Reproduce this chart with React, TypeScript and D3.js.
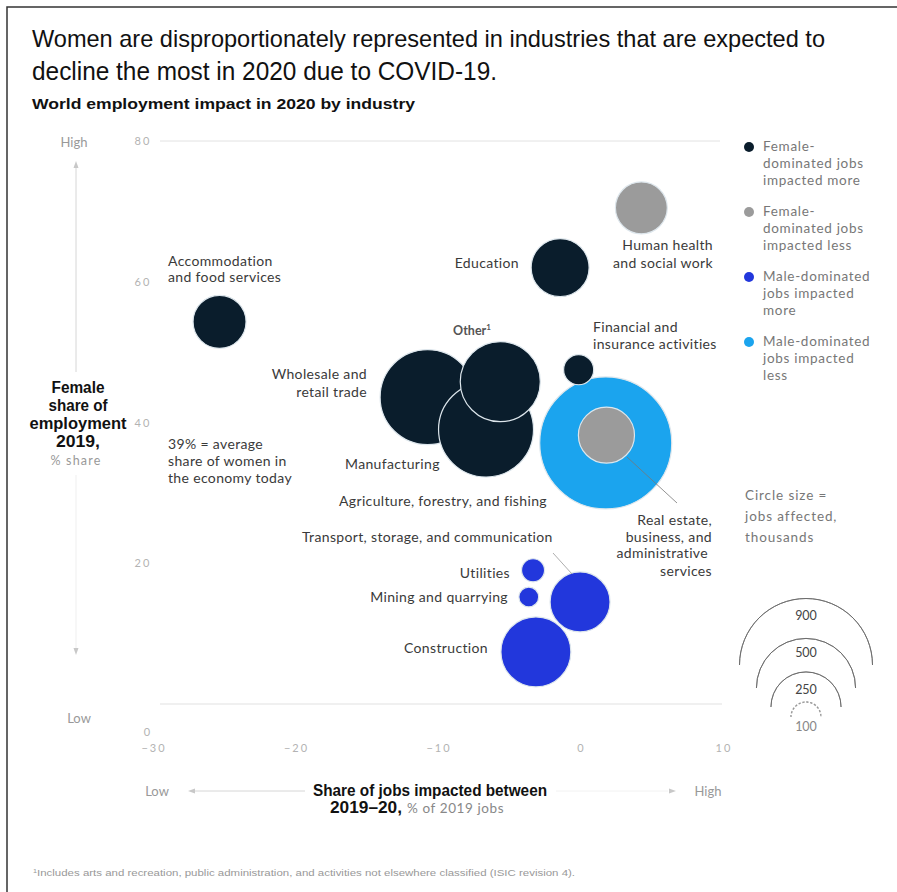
import React from "react";
import * as d3 from "d3";

// ---- Data ----
const industries = [
  "Accommodation and food services",
  "Education",
  "Human health and social work",
  "Wholesale and retail trade",
  "Manufacturing",
  "Other",
  "Agriculture, forestry, and fishing",
  "Real estate, business, and administrative services",
  "Financial and insurance activities",
  "Transport, storage, and communication",
  "Utilities",
  "Mining and quarrying",
  "Construction",
];
const jobsImpactedShare = [-25.4, -1.5, 4.2, -10.8, -6.7, -5.7, 1.7, 1.75, -0.2, -0.1, -3.4, -3.7, -3.2];
const femaleShare = [54.3, 62.0, 70.5, 43.6, 39.0, 45.8, 37.1, 38.2, 47.5, 14.5, 19.0, 15.2, 7.4];
const jobsAffected = [143, 171, 137, 459, 459, 326, 887, 160, 46, 183, 27, 20, 249];
const groupOf = [0, 0, 1, 0, 0, 0, 3, 1, 0, 2, 2, 2, 2];

const groupLabels = [
  ["Female-", "dominated jobs", "impacted more"],
  ["Female-", "dominated jobs", "impacted less"],
  ["Male-dominated", "jobs impacted", "more"],
  ["Male-dominated", "jobs impacted", "less"],
];
const groupColors = ["#0a1d2c", "#9b9b9b", "#2237dc", "#1ba4ee"];

const xTicks = [-30, -20, -10, 0, 10];
const yTicks = [0, 20, 40, 60, 80];
const sizeLegend = [900, 500, 250, 100];

const W = 897;
const H = 892;

export default function App() {
  const x = d3.scaleLinear().domain([-30, 10]).range([154, 724]);
  const y = d3.scaleLinear().domain([0, 80]).range([704, 141]);
  const r = d3.scaleSqrt().domain([0, 900]).range([0, 66.5]);

  const points = industries.map((name, i) => ({
    name,
    x: jobsImpactedShare[i],
    y: femaleShare[i],
    v: jobsAffected[i],
    g: groupOf[i],
  }));

  const labelFont = "Lato, 'Open Sans', sans-serif";
  const narrow = "'Liberation Sans Narrow', 'Arial Narrow', 'Liberation Sans', sans-serif";
  const labelFill = "#3a3a3a";
  const ls = 14;

  const arc = d3.arc();

  const legendCx = 806;
  const legendBase = [665, 688, 707, 717];

  const yTitle = [
    { s: "Female", w: 53 },
    { s: "share of", w: 59 },
    { s: "employment", w: 97 },
    { s: "2019,", w: 44 },
  ];

  return (
    <svg
      width={W}
      height={H}
      style={{ position: "absolute", left: 0, top: 0, background: "#fff" }}
    >
      <rect x={7} y={7} width={1000} height={1000} fill="none" stroke="#333" strokeWidth={1.5} />

      {/* Title */}
      <text x={32} y={47} fontFamily={narrow} fontSize={24} fill="#111" textLength={793} lengthAdjust="spacingAndGlyphs">
        Women are disproportionately represented in industries that are expected to
      </text>
      <text x={32} y={80} fontFamily={narrow} fontSize={26} fill="#111" textLength={465} lengthAdjust="spacingAndGlyphs">
        decline the most in 2020 due to COVID-19.
      </text>
      <text x={32} y={109} fontFamily={narrow} fontSize={15.5} fontWeight={900} fill="#111" textLength={383} lengthAdjust="spacingAndGlyphs">
        World employment impact in 2020 by industry
      </text>

      {/* gridlines */}
      <line x1={160} x2={720} y1={y(80)} y2={y(80)} stroke="#e2e2e2" strokeWidth={1} />
      <line x1={160} x2={722} y1={y(0)} y2={y(0)} stroke="#e2e2e2" strokeWidth={1.2} />

      {/* y tick labels */}
      {yTicks.map((t) => (
        <text
          key={"y" + t}
          x={t === 0 ? 148 : 143}
          y={t === 0 ? 736 : y(t) + 4}
          textAnchor="middle"
          fontFamily={labelFont}
          fontSize={11}
          fill="#b3b3b3"
          letterSpacing={2}
        >
          {t}
        </text>
      ))}
      {/* x tick labels */}
      {xTicks.map((t) => (
        <text
          key={"x" + t}
          x={x(t)}
          y={752}
          textAnchor="middle"
          fontFamily={labelFont}
          fontSize={11}
          fill="#b3b3b3"
          letterSpacing={2}
        >
          {t < 0 ? "\u2212" + Math.abs(t) : t}
        </text>
      ))}

      {/* y axis arrows and titles */}
      <text x={74} y={147} textAnchor="middle" fontFamily={labelFont} fontSize={13} fill="#999">High</text>
      <line x1={76} x2={76} y1={166} y2={372} stroke="#d6d6d6" strokeWidth={1} />
      <path d="M76,161 L73.5,168 L78.5,168 Z" fill="#c8c8c8" />
      <line x1={76} x2={76} y1={475} y2={648} stroke="#efefef" strokeWidth={1} />
      <path d="M76,655 L73.5,648 L78.5,648 Z" fill="#c8c8c8" />
      <text x={79} y={723} textAnchor="middle" fontFamily={labelFont} fontSize={13} fill="#999">Low</text>

      {yTitle.map((o, i) => (
        <text
          key={o.s}
          x={78 - o.w / 2}
          y={393 + i * 18}
          fontFamily={narrow}
          fontSize={16}
          fontWeight={900}
          fill="#111"
          textLength={o.w}
          lengthAdjust="spacingAndGlyphs"
        >
          {o.s}
        </text>
      ))}
      <text x={76} y={465} textAnchor="middle" fontFamily={labelFont} fontSize={12.5} fill="#999" letterSpacing={1.2}>% share</text>

      {/* x axis title */}
      <text x={157} y={796} textAnchor="middle" fontFamily={labelFont} fontSize={13} fill="#999">Low</text>
      <line x1={193} x2={305} y1={791} y2={791} stroke="#d6d6d6" strokeWidth={1} />
      <path d="M188,791 L195,788.5 L195,793.5 Z" fill="#c8c8c8" />
      <line x1={556} x2={668} y1={791} y2={791} stroke="#f2f2f2" strokeWidth={1} />
      <path d="M676,791 L669,788.5 L669,793.5 Z" fill="#c8c8c8" />
      <text x={708} y={796} textAnchor="middle" fontFamily={labelFont} fontSize={13} fill="#999">High</text>
      <text x={313} y={796} fontFamily={narrow} fontSize={16} fontWeight={900} fill="#111" textLength={234} lengthAdjust="spacingAndGlyphs">
        Share of jobs impacted between
      </text>
      <text x={330} y={813} fontFamily={narrow} fontSize={16} fontWeight={900} fill="#111" textLength={72} lengthAdjust="spacingAndGlyphs">
        2019–20,
      </text>
      <text x={407} y={813} fontFamily={labelFont} fontSize={13.5} fill="#888" letterSpacing={0.6}>% of 2019 jobs</text>

      {/* bubbles */}
      {points.map((p) => (
        <circle
          key={p.name}
          cx={x(p.x)}
          cy={y(p.y)}
          r={r(p.v)}
          fill={groupColors[p.g]}
          stroke="#dde6ec"
          strokeWidth={1.2}
        />
      ))}

      {/* leader lines */}
      <line x1={627} y1={457} x2={677} y2={503} stroke="#777" strokeWidth={0.8} />
      <line x1={553} y1={553} x2={572} y2={574} stroke="#999" strokeWidth={0.8} />

      {/* bubble labels */}
      <g fontFamily={labelFont} fontSize={ls} fill={labelFill} letterSpacing={0.35}>
        <text x={168} y={266}>Accommodation</text>
        <text x={168} y={282}>and food services</text>
        <text x={519} y={268} textAnchor="end">Education</text>
        <text x={713} y={250} textAnchor="end">Human health</text>
        <text x={713} y={268} textAnchor="end">and social work</text>
        <text x={472} y={335} textAnchor="middle" fontWeight={700} fontSize={12.5} letterSpacing={0} fill="#555">
          Other<tspan fontSize={8} dy={-5}>1</tspan>
        </text>
        <text x={593} y={332}>Financial and</text>
        <text x={593} y={349}>insurance activities</text>
        <text x={367} y={379} textAnchor="end">Wholesale and</text>
        <text x={367} y={397} textAnchor="end">retail trade</text>
        <text x={168} y={449}>39% = average</text>
        <text x={168} y={466}>share of women in</text>
        <text x={168} y={483}>the economy today</text>
        <text x={345} y={469}>Manufacturing</text>
        <text x={339} y={506}>Agriculture, forestry, and fishing</text>
        <text x={712} y={525} textAnchor="end">Real estate,</text>
        <text x={712} y={542} textAnchor="end">business,  and</text>
        <text x={708} y={558} textAnchor="end">administrative</text>
        <text x={712} y={576} textAnchor="end">services</text>
        <text x={302} y={542}>Transport, storage, and communication</text>
        <text x={510} y={578} textAnchor="end">Utilities</text>
        <text x={508} y={602} textAnchor="end">Mining and quarrying</text>
        <text x={404} y={653}>Construction</text>
      </g>

      {/* color legend */}
      {groupLabels.map((lines, gi) => (
        <g key={"lg" + gi}>
          <circle cx={749} cy={147 + gi * 65} r={5} fill={groupColors[gi]} />
          {lines.map((s, li) => (
            <text
              key={s + li}
              x={763}
              y={151 + gi * 65 + li * 17}
              fontFamily={labelFont}
              fontSize={13.5}
              fill="#777"
              letterSpacing={0.7}
            >
              {s}
            </text>
          ))}
        </g>
      ))}

      {/* size legend */}
      {["Circle size =", "jobs affected,", "thousands"].map((s, i) => (
        <text key={s} x={745} y={500 + i * 21} fontFamily={labelFont} fontSize={13.5} fill="#777" letterSpacing={0.9}>
          {s}
        </text>
      ))}
      {sizeLegend.map((v, i) => {
        const rr = v === 100 ? 15 : r(v);
        const d = arc({ innerRadius: rr, outerRadius: rr, startAngle: -Math.PI / 2, endAngle: Math.PI / 2 }) as string;
        return (
          <g key={"sz" + v} transform={`translate(${legendCx},${legendBase[i]})`}>
            <path
              d={d}
              fill="none"
              stroke={v === 100 ? "#999" : "#666"}
              strokeWidth={v === 100 ? 1.4 : 0.8}
              strokeDasharray={v === 100 ? "2,2" : undefined}
            />
          </g>
        );
      })}
      {sizeLegend.map((v, i) => (
        <text
          key={"szt" + v}
          x={legendCx}
          y={[620, 657, 694, 731][i]}
          textAnchor="middle"
          fontFamily={labelFont}
          fontSize={12.5}
          fill={v === 100 ? "#888" : "#444"}
        >
          {v}
        </text>
      ))}

      {/* footnote */}
      <text x={33} y={876} fontFamily={narrow} fontSize={9.5} fill="#999" textLength={542} lengthAdjust="spacingAndGlyphs">
        <tspan fontSize={6} dy={-3}>1</tspan>
        <tspan dy={3}>Includes arts and recreation, public administration, and activities not elsewhere classified (ISIC revision 4).</tspan>
      </text>
    </svg>
  );
}
